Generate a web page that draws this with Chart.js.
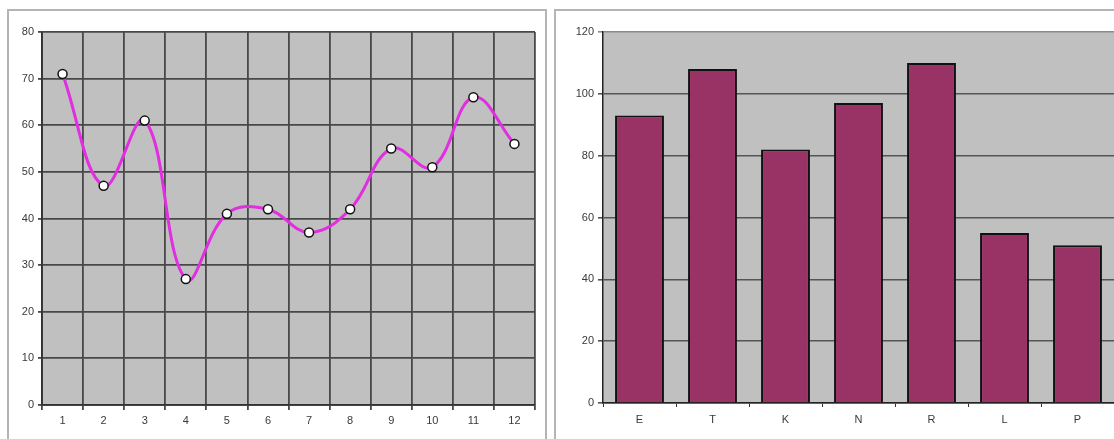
<!DOCTYPE html>
<html>
<head>
<meta charset="utf-8">
<script src="https://cdn.jsdelivr.net/npm/chart.js@4/dist/chart.umd.min.js"></script>
<style>
  html, body { margin: 0; padding: 0; background: #fff; overflow: hidden; }
  body { width: 1114px; height: 439px; position: relative; }
  .panel { position: absolute; border: 2px solid #b4b4b4; background: #fff; box-sizing: border-box; }
  .wrap { position: absolute; }
</style>
</head>
<body>
<div class="panel" style="left:7px; top:9px; width:540px; height:460px;"></div>
<div class="panel" style="left:554px; top:9px; width:600px; height:460px;"></div>
<div class="wrap" style="left:0; top:0; width:550px; height:439px;"><canvas id="lineChart"></canvas></div>
<div class="wrap" style="left:550px; top:0; width:564px; height:439px;"><canvas id="barChart"></canvas></div>
<script>
// Monthly series (left) and letter totals (right)
const monthLabels = ['1', '2', '3', '4', '5', '6', '7', '8', '9', '10', '11', '12'];
const monthValues = [71, 47, 61, 27, 41, 42, 37, 42, 55, 51, 66, 56];
const yTicksLeft = [0, 10, 20, 30, 40, 50, 60, 70, 80];

const letterLabels = ['E', 'T', 'K', 'N', 'R', 'L', 'P'];
const letterValues = [93, 108, 82, 97, 110, 55, 51];
const yTicksRight = [0, 20, 40, 60, 80, 100, 120];

const FONT = { family: '"Liberation Sans", Arial, sans-serif', size: 11 };
const TEXT = '#3a3a3a';

// Fill the plot area with the classic gray backdrop
const plotBackground = {
  id: 'plotBackground',
  beforeDraw(chart) {
    const { ctx, chartArea: a } = chart;
    ctx.save();
    ctx.fillStyle = '#c0c0c0';
    ctx.fillRect(a.left, a.top, a.right - a.left, a.bottom - a.top);
    ctx.restore();
  }
};

function fixed(size) {
  return function (scale) {
    if (scale.isHorizontal()) scale.height = size; else scale.width = size;
  };
}

new Chart(document.getElementById('lineChart'), {
  type: 'line',
  data: {
    labels: monthLabels,
    datasets: [{
      data: monthValues,
      borderColor: '#e02ee0',
      borderWidth: 3,
      tension: 0.4,
      pointRadius: 4.5,
      pointBackgroundColor: '#ffffff',
      pointBorderColor: '#111',
      pointBorderWidth: 1.5,
      fill: false
    }]
  },
  options: {
    responsive: true,
    maintainAspectRatio: false,
    animation: false,
    events: [],
    layout: { padding: { top: 32, right: 15, bottom: 0, left: 0 } },
    plugins: { legend: { display: false }, tooltip: { enabled: false } },
    scales: {
      x: {
        offset: true,
        afterFit: fixed(34),
        grid: { offset: true, color: '#484848', lineWidth: 1.8, tickLength: 5 },
        border: { color: '#333', width: 1.8 },
        ticks: { font: FONT, color: TEXT, padding: 4, maxRotation: 0, autoSkip: false }
      },
      y: {
        min: 0,
        max: 80,
        afterFit: fixed(42),
        afterBuildTicks(scale) { scale.ticks = yTicksLeft.map(v => ({ value: v })); },
        grid: { color: '#484848', lineWidth: 1.8, tickLength: 4 },
        border: { color: '#333', width: 1.8 },
        ticks: { font: FONT, color: TEXT, padding: 4 }
      }
    }
  },
  plugins: [plotBackground]
});

new Chart(document.getElementById('barChart'), {
  type: 'bar',
  data: {
    labels: letterLabels,
    datasets: [{
      data: letterValues,
      backgroundColor: '#993366',
      borderColor: '#111',
      borderWidth: 2,
      borderSkipped: 'bottom',
      barPercentage: 1,
      categoryPercentage: 0.67
    }]
  },
  options: {
    responsive: true,
    maintainAspectRatio: false,
    animation: false,
    events: [],
    layout: { padding: { top: 32, right: 0, bottom: 0, left: 0 } },
    plugins: { legend: { display: false }, tooltip: { enabled: false } },
    scales: {
      x: {
        afterFit: fixed(36),
        grid: { offset: true, drawOnChartArea: false, color: '#333', lineWidth: 1, tickLength: 4 },
        border: { color: '#222', width: 1.5 },
        ticks: { font: FONT, color: TEXT, padding: 6, maxRotation: 0 }
      },
      y: {
        min: 0,
        max: 120,
        afterFit: fixed(53),
        afterBuildTicks(scale) { scale.ticks = yTicksRight.map(v => ({ value: v })); },
        grid: {
          color: ctx => (ctx.tick && ctx.tick.value === 120 ? '#8a8a8a' : '#555'),
          lineWidth: 1.6,
          tickLength: 5
        },
        border: { color: '#222', width: 1.5 },
        ticks: { font: FONT, color: TEXT, padding: 4 }
      }
    }
  },
  plugins: [plotBackground]
});
</script>
</body>
</html>
